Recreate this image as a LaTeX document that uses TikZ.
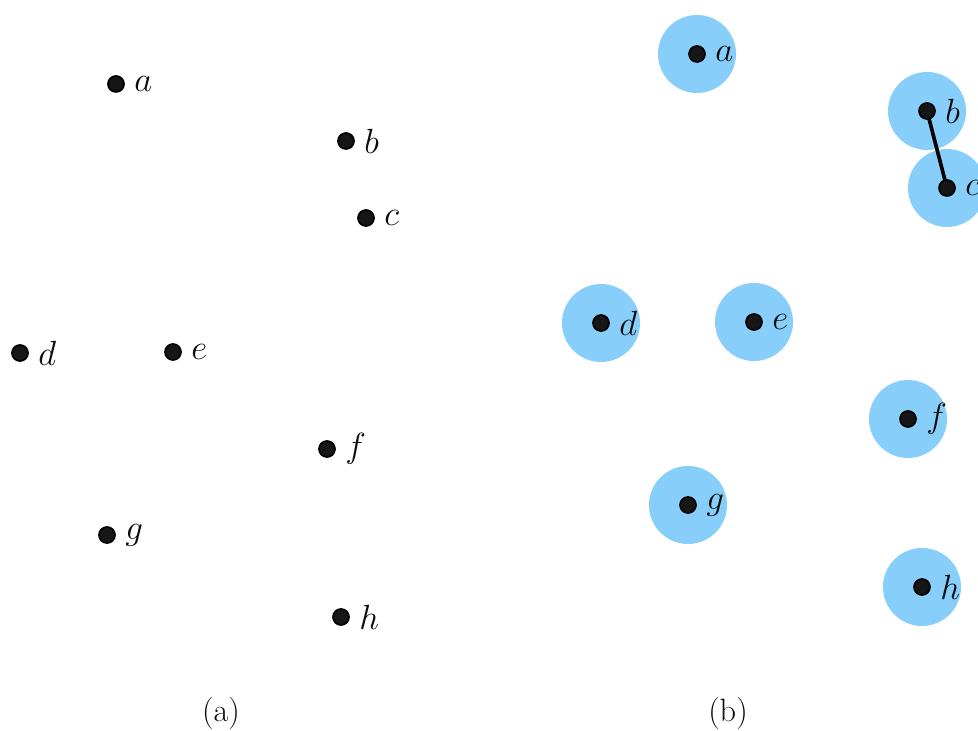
\documentclass[tikz,border=0pt]{standalone}
\usepackage{amsmath,amssymb}
\usetikzlibrary{positioning}
\definecolor{ink}{HTML}{0B0B0B}
\definecolor{dotfill}{HTML}{161616}
\definecolor{diskfill}{HTML}{87CEFA}
\tikzset{
  every node/.style={text=ink},
  dot/.style={circle, fill=dotfill, draw=black, line width=1.2pt, inner sep=0pt, minimum size=0.4cm},
  lbl/.style={font=\fontsize{23}{27}\selectfont, inner sep=1.5pt},
  disk/.style={fill=diskfill},
  edge/.style={draw=black, line width=2.6pt},
  caption/.style={font=\fontsize{23}{27}\selectfont},
}

\begin{document}
\begin{tikzpicture}
  \def\rad{0.975}   % radius of the disks in (b)
  \def\sx{14.525}   % shift of panel (b)
  \def\sy{0.75}
  \useasboundingbox (0,0) rectangle (24.45,18.275);
  \clip (0,0) rectangle (24.45,18.275);

  % point positions (panel a), and the same shifted for panel b
  \foreach \n/\x/\y in {a/2.9/16.175, b/8.65/14.75, c/9.15/12.825, d/0.5/9.45,
                        e/4.325/9.475, f/8.175/7.05, g/2.675/4.9, h/8.525/2.85} {
    \coordinate (l\n) at (\x,\y);
    \coordinate (r\n) at (\x+\sx,\y+\sy);
  }

  % disks of panel b
  \foreach \n in {a,...,h}
    \fill[disk] (r\n) circle (\rad);

  % overlapping disks get joined
  \draw[edge] (rb) -- (rc);

  % points with labels, both panels
  \foreach \n in {a,...,h} {
    \node[dot, label={[lbl, label distance=5pt]right:$\n$}] (pl\n) at (l\n) {};
    \node[dot, label={[lbl, label distance=5pt]right:$\n$}] (pr\n) at (r\n) {};
  }

  \node[caption] (capa) at (5.525,0.45) {(a)};
  \node[caption] (capb) at (18.2,0.45) {(b)};
\end{tikzpicture}
\end{document}
